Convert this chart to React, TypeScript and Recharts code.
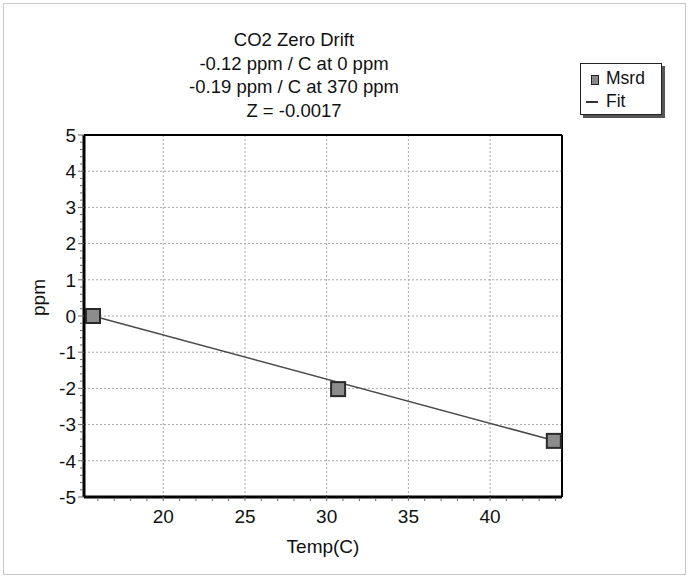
import {
  ComposedChart,
  CartesianGrid,
  XAxis,
  YAxis,
  Scatter,
  Line,
  ReferenceLine,
  ReferenceDot,
} from "recharts"

// measured zero readings
const msrdTemp = [15.7, 30.7, 43.9]
const msrdPpm = [0.0, -2.02, -3.45]

// linear fit endpoints
const fitTemp = [15.7, 43.9]
const fitPpm = [0.0, -3.44]

const xTicks = [20, 25, 30, 35, 40]
const yTicks = [-5, -4, -3, -2, -1, 0, 1, 2, 3, 4, 5]
const xMinorTicks = [16, 17, 18, 19, 21, 22, 23, 24, 26, 27, 28, 29, 31, 32, 33, 34, 36, 37, 38, 39, 41, 42, 43, 44]
const yMinorTicks = [-4.8, -4.6, -4.4, -4.2, -3.8, -3.6, -3.4, -3.2, -2.8, -2.6, -2.4, -2.2, -1.8, -1.6, -1.4, -1.2, -0.8, -0.6, -0.4, -0.2, 0.2, 0.4, 0.6, 0.8, 1.2, 1.4, 1.6, 1.8, 2.2, 2.4, 2.6, 2.8, 3.2, 3.4, 3.6, 3.8, 4.2, 4.4, 4.6, 4.8]

const titleLines = [
  "CO2 Zero Drift",
  "-0.12 ppm / C at 0 ppm",
  "-0.19 ppm / C at 370 ppm",
  "Z = -0.0017",
]

const X_MIN = 15.15
const X_MAX = 44.4
const Y_MIN = -5
const Y_MAX = 5

const FONT = "'Liberation Sans', Arial, sans-serif"

const msrd = msrdTemp.map((t, i) => ({ temp: t, ppm: msrdPpm[i] }))
const fit = fitTemp.map((t, i) => ({ temp: t, ppm: fitPpm[i] }))

function SquareMark(props: any) {
  const { cx, cy } = props
  const s = 14
  return (
    <rect
      x={cx - s / 2}
      y={cy - s / 2}
      width={s}
      height={s}
      fill="#8c8c8c"
      stroke="#2a2a2a"
      strokeWidth={2}
    />
  )
}

function XMinor(props: any) {
  const { cx, cy } = props
  return <line x1={cx} x2={cx} y1={cy + 1} y2={cy + 4} stroke="#666" strokeWidth={1} />
}

function YMinor(props: any) {
  const { cx, cy } = props
  return <line x1={cx - 4} x2={cx - 1} y1={cy} y2={cy} stroke="#666" strokeWidth={1} />
}

export default function App() {
  return (
    <div
      style={{
        position: "absolute",
        left: 0,
        top: 0,
        width: 690,
        height: 578,
        background: "#fff",
        fontFamily: FONT,
        color: "#111",
      }}
    >
      <div
        style={{
          position: "absolute",
          left: 3,
          top: 3,
          width: 683,
          height: 572,
          border: "1px solid #c8c8c8",
          boxSizing: "border-box",
        }}
      />
      {titleLines.map((t, i) => (
        <div
          key={t}
          style={{
            position: "absolute",
            left: 144,
            width: 300,
            top: 28 + i * 23.5,
            textAlign: "center",
            fontSize: 18.5,
            lineHeight: "24px",
          }}
        >
          {t}
        </div>
      ))}

      <ComposedChart
        width={690}
        height={578}
        margin={{ top: 135, right: 128, bottom: 21, left: 0 }}
        style={{ position: "absolute", left: 0, top: 0 }}
      >
        <CartesianGrid
          stroke="#a8a8a8"
          strokeDasharray="2 2"
          verticalValues={xTicks}
          horizontalValues={yTicks}
        />
        <XAxis
          dataKey="temp"
          type="number"
          domain={[X_MIN, X_MAX]}
          ticks={xTicks}
          allowDataOverflow
          height={60}
          tickSize={4}
          tickMargin={9}
          tick={{ fill: "#111", fontSize: 19, fontFamily: FONT }}
          tickLine={{ stroke: "#666" }}
          axisLine={{ stroke: "#000", strokeWidth: 3 }}
          label={{
            value: "Temp(C)",
            position: "insideBottom",
            offset: 4,
            fill: "#111",
            fontSize: 19,
            fontFamily: FONT,
          }}
        />
        <YAxis
          dataKey="ppm"
          type="number"
          domain={[Y_MIN, Y_MAX]}
          ticks={yTicks}
          width={84}
          tickSize={6}
          tickMargin={2}
          tick={{ fill: "#111", fontSize: 19, fontFamily: FONT }}
          tickLine={{ stroke: "#666" }}
          axisLine={{ stroke: "#000", strokeWidth: 3 }}
          label={{
            value: "ppm",
            angle: -90,
            position: "insideLeft",
            offset: 38,
            fill: "#111",
            fontSize: 19,
            fontFamily: FONT,
          }}
        />
        <ReferenceLine y={Y_MAX} stroke="#000" strokeWidth={2} />
        <ReferenceLine x={X_MAX} stroke="#000" strokeWidth={2} />
        {xMinorTicks.map((v) => (
          <ReferenceDot key={`xm${v}`} x={v} y={Y_MIN} ifOverflow="visible" shape={XMinor} />
        ))}
        {yMinorTicks.map((v) => (
          <ReferenceDot key={`ym${v}`} x={X_MIN} y={v} ifOverflow="visible" shape={YMinor} />
        ))}
        <Line
          data={fit}
          dataKey="ppm"
          type="linear"
          stroke="#4a4a4a"
          strokeWidth={1.5}
          dot={false}
          activeDot={false}
          isAnimationActive={false}
        />
        <Scatter data={msrd} dataKey="ppm" shape={SquareMark} isAnimationActive={false} />
      </ComposedChart>

      {/* legend box with drop shadow */}
      <div
        style={{
          position: "absolute",
          left: 580,
          top: 63,
          width: 82,
          height: 52,
          border: "1px solid #222",
          boxSizing: "border-box",
          background: "#fff",
          boxShadow: "3px 3px 0 #555",
          fontSize: 17.5,
        }}
      >
        <div style={{ position: "absolute", left: 10, top: 11, width: 6, height: 8, background: "#888", border: "1px solid #222" }} />
        <div style={{ position: "absolute", left: 25, top: 3, lineHeight: "22px" }}>Msrd</div>
        <div style={{ position: "absolute", left: 5, top: 37, width: 12, height: 1.5, background: "#333" }} />
        <div style={{ position: "absolute", left: 25, top: 26, lineHeight: "22px" }}>Fit</div>
      </div>
    </div>
  )
}
